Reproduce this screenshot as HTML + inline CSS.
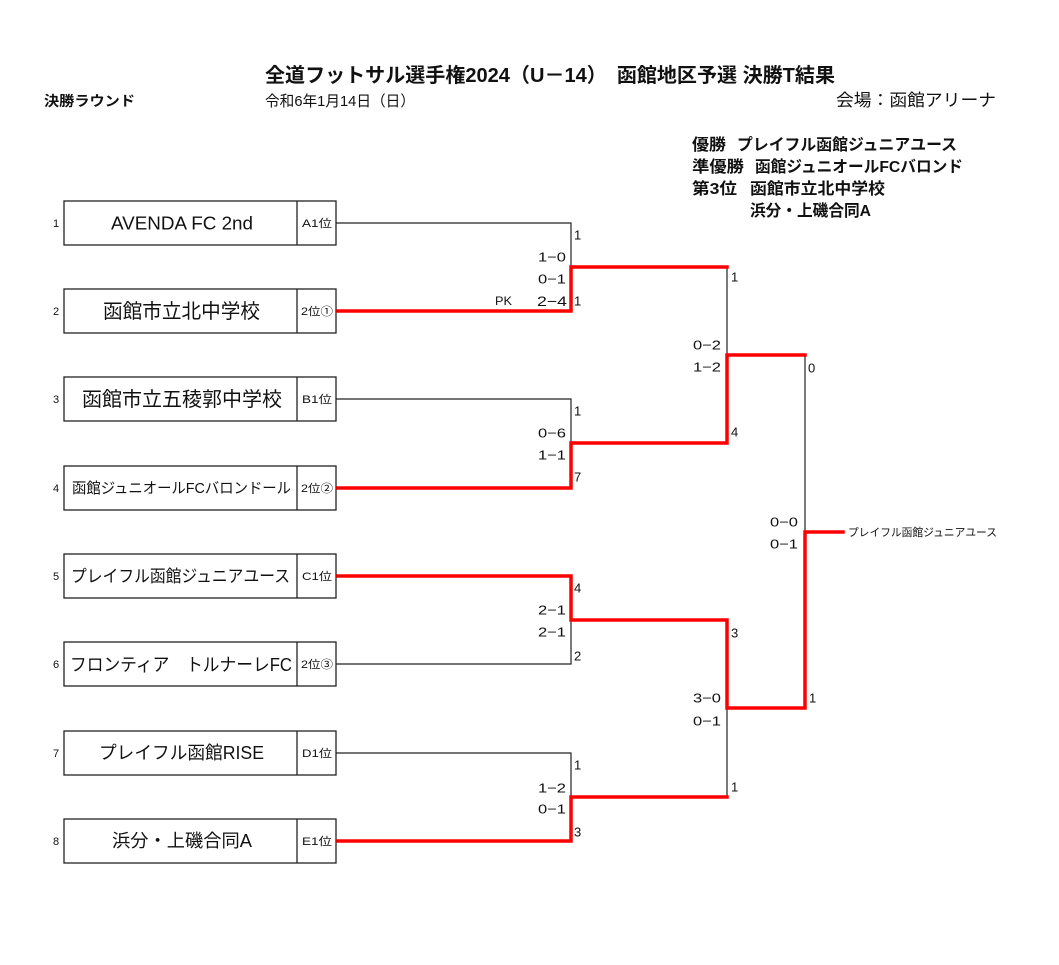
<!DOCTYPE html>
<html>
<head>
<meta charset="utf-8">
<style>
  html,body{margin:0;padding:0;background:#fff;}
  svg{display:block;}
  text{font-family:"Liberation Sans","Noto Sans CJK JP",sans-serif;fill:#111;}
  .b{font-weight:bold;}
</style>
</head>
<body>
<svg width="1059" height="965" viewBox="0 0 1059 965" xmlns="http://www.w3.org/2000/svg">
  <rect x="0" y="0" width="1059" height="965" fill="#fff"/>

  <!-- Header -->
  <text class="b" x="265" y="82" font-size="20" textLength="570" lengthAdjust="spacingAndGlyphs">全道フットサル選手権2024（U－14）　函館地区予選 決勝T結果</text>
  <text class="b" x="44" y="106" font-size="14" textLength="91" lengthAdjust="spacingAndGlyphs">決勝ラウンド</text>
  <text x="265" y="106" font-size="15" textLength="150" lengthAdjust="spacingAndGlyphs">令和6年1月14日（日）</text>
  <text x="836" y="106" font-size="17" textLength="160" lengthAdjust="spacingAndGlyphs">会場：函館アリーナ</text>

  <!-- Results -->
  <text class="b" x="692" y="150" font-size="16" textLength="34" lengthAdjust="spacingAndGlyphs">優勝</text>
  <text class="b" x="737" y="150" font-size="16" textLength="220" lengthAdjust="spacingAndGlyphs">プレイフル函館ジュニアユース</text>
  <text class="b" x="692" y="172" font-size="16" textLength="52" lengthAdjust="spacingAndGlyphs">準優勝</text>
  <text class="b" x="755" y="172" font-size="16" textLength="208" lengthAdjust="spacingAndGlyphs">函館ジュニオールFCバロンド</text>
  <text class="b" x="692" y="194" font-size="16" textLength="45" lengthAdjust="spacingAndGlyphs">第3位</text>
  <text class="b" x="750" y="194" font-size="16" textLength="135" lengthAdjust="spacingAndGlyphs">函館市立北中学校</text>
  <text class="b" x="750" y="216" font-size="16" textLength="121" lengthAdjust="spacingAndGlyphs">浜分・上磯合同A</text>

  <!-- Team boxes -->
  <g fill="#fff" stroke="#222" stroke-width="1.3">
    <rect x="64" y="201" width="272" height="44"/>
    <rect x="64" y="289" width="272" height="44"/>
    <rect x="64" y="377" width="272" height="44"/>
    <rect x="64" y="466" width="272" height="44"/>
    <rect x="64" y="554" width="272" height="44"/>
    <rect x="64" y="642" width="272" height="44"/>
    <rect x="64" y="731" width="272" height="44"/>
    <rect x="64" y="819" width="272" height="44"/>
    <line x1="297" y1="201" x2="297" y2="245"/>
    <line x1="297" y1="289" x2="297" y2="333"/>
    <line x1="297" y1="377" x2="297" y2="421"/>
    <line x1="297" y1="466" x2="297" y2="510"/>
    <line x1="297" y1="554" x2="297" y2="598"/>
    <line x1="297" y1="642" x2="297" y2="686"/>
    <line x1="297" y1="731" x2="297" y2="775"/>
    <line x1="297" y1="819" x2="297" y2="863"/>
  </g>

  <!-- Seed numbers -->
  <g font-size="11" text-anchor="middle">
    <text x="56" y="227">1</text>
    <text x="56" y="315">2</text>
    <text x="56" y="403">3</text>
    <text x="56" y="492">4</text>
    <text x="56" y="580">5</text>
    <text x="56" y="668">6</text>
    <text x="56" y="757">7</text>
    <text x="56" y="845">8</text>
  </g>

  <!-- Team names -->
  <text x="111" y="229.5" font-size="18" textLength="142" lengthAdjust="spacingAndGlyphs">AVENDA FC 2nd</text>
  <text x="103" y="318" font-size="20" textLength="157" lengthAdjust="spacingAndGlyphs">函館市立北中学校</text>
  <text x="82" y="406" font-size="20" textLength="200" lengthAdjust="spacingAndGlyphs">函館市立五稜郭中学校</text>
  <text x="72" y="493" font-size="15" textLength="219" lengthAdjust="spacingAndGlyphs">函館ジュニオールFCバロンドール</text>
  <text x="71" y="582" font-size="17" textLength="219" lengthAdjust="spacingAndGlyphs">プレイフル函館ジュニアユース</text>
  <text x="70" y="671" font-size="18" textLength="222" lengthAdjust="spacingAndGlyphs">フロンティア　トルナーレFC</text>
  <text x="99" y="759" font-size="18" textLength="165" lengthAdjust="spacingAndGlyphs">プレイフル函館RISE</text>
  <text x="112" y="847" font-size="18" textLength="140" lengthAdjust="spacingAndGlyphs">浜分・上磯合同A</text>

  <!-- Seed labels -->
  <g font-size="11">
    <text x="302" y="227" textLength="30" lengthAdjust="spacingAndGlyphs">A1位</text>
    <text x="301" y="315" textLength="32" lengthAdjust="spacingAndGlyphs">2位①</text>
    <text x="302" y="403" textLength="30" lengthAdjust="spacingAndGlyphs">B1位</text>
    <text x="301" y="492" textLength="32" lengthAdjust="spacingAndGlyphs">2位②</text>
    <text x="302" y="580" textLength="30" lengthAdjust="spacingAndGlyphs">C1位</text>
    <text x="301" y="668" textLength="32" lengthAdjust="spacingAndGlyphs">2位③</text>
    <text x="302" y="757" textLength="30" lengthAdjust="spacingAndGlyphs">D1位</text>
    <text x="302" y="845" textLength="30" lengthAdjust="spacingAndGlyphs">E1位</text>
  </g>

  <!-- Black bracket lines -->
  <g stroke="#222" stroke-width="1.2" fill="none">
    <polyline points="336,223 571,223 571,267"/>
    <polyline points="336,399 571,399 571,443"/>
    <polyline points="336,664 571,664 571,620"/>
    <polyline points="336,753 571,753 571,797"/>
    <line x1="727" y1="267" x2="727" y2="355"/>
    <line x1="727" y1="708" x2="727" y2="797"/>
    <line x1="805" y1="355" x2="805" y2="532"/>
  </g>

  <!-- Red winner lines -->
  <g stroke="#ff0000" stroke-width="3.5" fill="none" stroke-linejoin="miter" stroke-linecap="square">
    <polyline points="338,311 571,311 571,267 727,267"/>
    <polyline points="338,488 571,488 571,443 727,443 727,355 805,355"/>
    <polyline points="338,576 571,576 571,620 727,620 727,708 805,708 805,532 843,532"/>
    <polyline points="338,841 571,841 571,797 727,797"/>
  </g>

  <!-- Scores & goal counts -->
  <g font-size="13">
    <!-- Match 1 -->
    <text x="574" y="239.5">1</text>
    <text x="566" y="261.5" text-anchor="end" textLength="28" lengthAdjust="spacingAndGlyphs">1−0</text>
    <text x="566" y="283.5" text-anchor="end" textLength="28" lengthAdjust="spacingAndGlyphs">0−1</text>
    <text x="495" y="305" font-size="12" textLength="17" lengthAdjust="spacingAndGlyphs">PK</text>
    <text x="567" y="306" font-size="14" text-anchor="end" textLength="30" lengthAdjust="spacingAndGlyphs">2−4</text>
    <text x="574" y="305.5">1</text>
    <!-- Match 2 -->
    <text x="574" y="415.5">1</text>
    <text x="566" y="437.5" text-anchor="end" textLength="28" lengthAdjust="spacingAndGlyphs">0−6</text>
    <text x="566" y="459.5" text-anchor="end" textLength="28" lengthAdjust="spacingAndGlyphs">1−1</text>
    <text x="574" y="481.5">7</text>
    <!-- Match 3 -->
    <text x="574" y="592.5">4</text>
    <text x="566" y="614.5" text-anchor="end" textLength="28" lengthAdjust="spacingAndGlyphs">2−1</text>
    <text x="566" y="636.5" text-anchor="end" textLength="28" lengthAdjust="spacingAndGlyphs">2−1</text>
    <text x="574" y="660.5">2</text>
    <!-- Match 4 -->
    <text x="574" y="769.5">1</text>
    <text x="566" y="792.5" text-anchor="end" textLength="28" lengthAdjust="spacingAndGlyphs">1−2</text>
    <text x="566" y="813.5" text-anchor="end" textLength="28" lengthAdjust="spacingAndGlyphs">0−1</text>
    <text x="574" y="836.5">3</text>
    <!-- SF 1 -->
    <text x="731" y="281.5">1</text>
    <text x="721" y="349.5" text-anchor="end" textLength="28" lengthAdjust="spacingAndGlyphs">0−2</text>
    <text x="721" y="371.5" text-anchor="end" textLength="28" lengthAdjust="spacingAndGlyphs">1−2</text>
    <text x="731" y="436.5">4</text>
    <!-- SF 2 -->
    <text x="731" y="637.5">3</text>
    <text x="721" y="702.5" text-anchor="end" textLength="28" lengthAdjust="spacingAndGlyphs">3−0</text>
    <text x="721" y="725.5" text-anchor="end" textLength="28" lengthAdjust="spacingAndGlyphs">0−1</text>
    <text x="731" y="791.5">1</text>
    <!-- Final -->
    <text x="808" y="372.5">0</text>
    <text x="798" y="526.5" text-anchor="end" textLength="28" lengthAdjust="spacingAndGlyphs">0−0</text>
    <text x="798" y="548.5" text-anchor="end" textLength="28" lengthAdjust="spacingAndGlyphs">0−1</text>
    <text x="809" y="702.5">1</text>
  </g>

  <!-- Champion -->
  <text x="848" y="536" font-size="11" textLength="149" lengthAdjust="spacingAndGlyphs">プレイフル函館ジュニアユース</text>
</svg>
</body>
</html>
